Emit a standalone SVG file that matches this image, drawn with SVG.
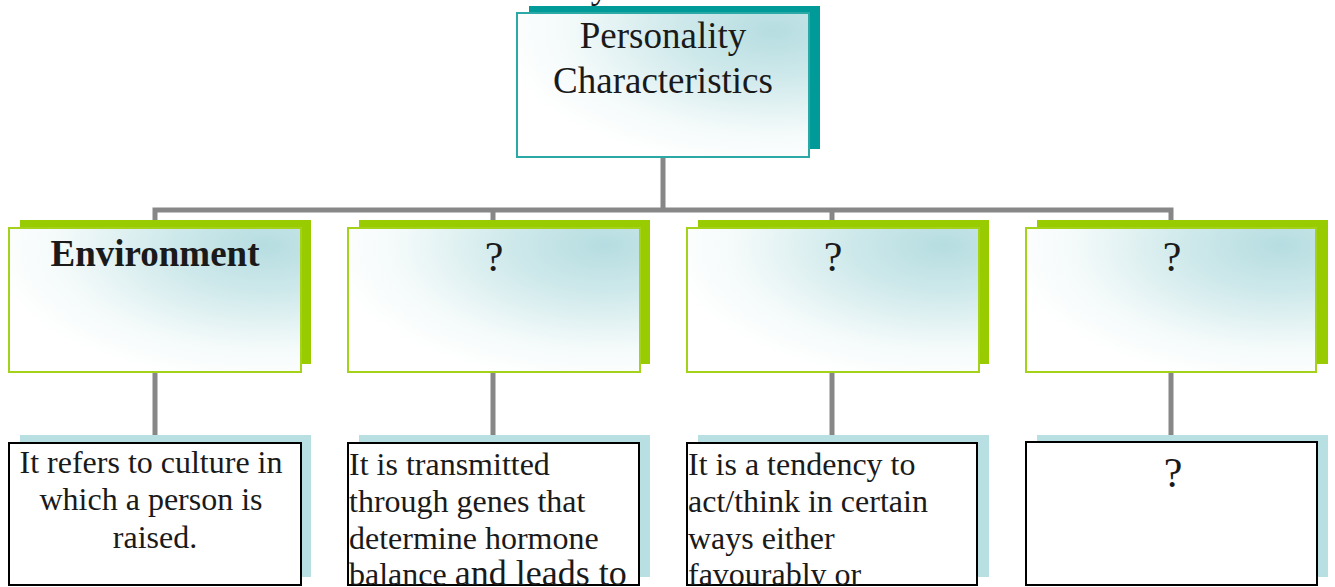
<svg xmlns="http://www.w3.org/2000/svg" width="1335" height="587" viewBox="0 0 1335 587">
  <defs>
    <radialGradient id="sheen" cx="0.88" cy="0.12" r="0.95" fx="0.88" fy="0.12">
      <stop offset="0" stop-color="#b6dde1"/>
      <stop offset="0.35" stop-color="#cfe9eb"/>
      <stop offset="0.75" stop-color="#f4fafa"/>
      <stop offset="1" stop-color="#ffffff"/>
    </radialGradient>
    <clipPath id="clip2"><rect x="349" y="444" width="290" height="142"/></clipPath>
    <clipPath id="clip3"><rect x="688" y="444" width="289" height="142"/></clipPath>
  </defs>
  <style>
    .serif { font-family: "Liberation Serif", "Times New Roman", serif; fill: #1a1a1a; }
    .head { font-size: 37px; }
    .body { font-size: 32px; }
    .q { font-size: 42px; }
    .shadow-teal { fill: #009b98; }
    .shadow-green { fill: #99cc00; }
    .shadow-blue { fill: #b8e0e3; }
    .card-top { fill: url(#sheen); stroke: #2aa9a6; stroke-width: 2; }
    .card-mid { fill: url(#sheen); stroke: #a4d21a; stroke-width: 2; }
    .card-low { fill: #ffffff; stroke: #000000; stroke-width: 2; }
    .wire { fill: none; stroke: #878787; stroke-width: 5; }
  </style>

  <rect width="1335" height="587" fill="#ffffff"/>

  <!-- clipped descender of a heading line above the chart -->
  <text class="serif head" x="600" y="-2" text-anchor="middle">y</text>

  <!-- connectors -->
  <g id="connectors">
    <path class="wire" d="M663 157 V210"/>
    <path class="wire" d="M155 228 V210 H1171 V228"/>
    <path class="wire" d="M493 210 V228"/>
    <path class="wire" d="M832 210 V228"/>
    <path class="wire" d="M155 372 V436"/>
    <path class="wire" d="M493 372 V436"/>
    <path class="wire" d="M832 372 V436"/>
    <path class="wire" d="M1171 372 V436"/>
  </g>

  <!-- root -->
  <g id="node-root">
    <rect class="shadow-teal" x="529" y="6" width="291" height="143"/>
    <rect class="card-top" x="517" y="13" width="292" height="144"/>
    <text class="serif head" x="663" y="48" text-anchor="middle">Personality</text>
    <text class="serif head" x="663" y="93" text-anchor="middle">Characteristics</text>
  </g>

  <!-- second tier -->
  <g id="node-environment">
    <rect class="shadow-green" x="20" y="220" width="291" height="144"/>
    <rect class="card-mid" x="9" y="228" width="292" height="144"/>
    <text class="serif head" x="155" y="266" text-anchor="middle" font-weight="bold">Environment</text>
  </g>
  <g id="node-factor-2">
    <rect class="shadow-green" x="359" y="220" width="291" height="144"/>
    <rect class="card-mid" x="348" y="228" width="292" height="144"/>
    <text class="serif q" x="494" y="271" text-anchor="middle">?</text>
  </g>
  <g id="node-factor-3">
    <rect class="shadow-green" x="698" y="220" width="291" height="144"/>
    <rect class="card-mid" x="687" y="228" width="292" height="144"/>
    <text class="serif q" x="833" y="271" text-anchor="middle">?</text>
  </g>
  <g id="node-factor-4">
    <rect class="shadow-green" x="1037" y="220" width="291" height="144"/>
    <rect class="card-mid" x="1026" y="228" width="290" height="144"/>
    <text class="serif q" x="1172" y="271" text-anchor="middle">?</text>
  </g>

  <!-- descriptions -->
  <g id="desc-environment">
    <rect class="shadow-blue" x="20" y="435" width="291" height="142"/>
    <rect class="card-low" x="9" y="443" width="292" height="142"/>
    <text class="serif body" text-anchor="middle">
      <tspan x="155" y="473">It refers to culture in</tspan>
      <tspan x="155" y="510">which a person is</tspan>
      <tspan x="155" y="548">raised.</tspan>
    </text>
  </g>
  <g id="desc-factor-2">
    <rect class="shadow-blue" x="359" y="435" width="291" height="142"/>
    <rect class="card-low" x="348" y="443" width="291" height="142"/>
    <text class="serif body" clip-path="url(#clip2)">
      <tspan x="349" y="475">It is transmitted</tspan>
      <tspan x="349" y="512">through genes that</tspan>
      <tspan x="349" y="549">determine hormone</tspan>
      <tspan x="349" y="585">balance <tspan font-size="36">and leads to</tspan></tspan>
    </text>
  </g>
  <g id="desc-factor-3">
    <rect class="shadow-blue" x="698" y="435" width="291" height="142"/>
    <rect class="card-low" x="687" y="443" width="290" height="142"/>
    <text class="serif body" clip-path="url(#clip3)">
      <tspan x="688" y="475">It is a tendency to</tspan>
      <tspan x="688" y="512">act/think in certain</tspan>
      <tspan x="688" y="549">ways either</tspan>
      <tspan x="688" y="585">favourably or</tspan>
    </text>
  </g>
  <g id="desc-factor-4">
    <rect class="shadow-blue" x="1037" y="435" width="291" height="142"/>
    <rect class="card-low" x="1026" y="442" width="291" height="143"/>
    <text class="serif q" x="1173" y="487" text-anchor="middle">?</text>
  </g>
</svg>
